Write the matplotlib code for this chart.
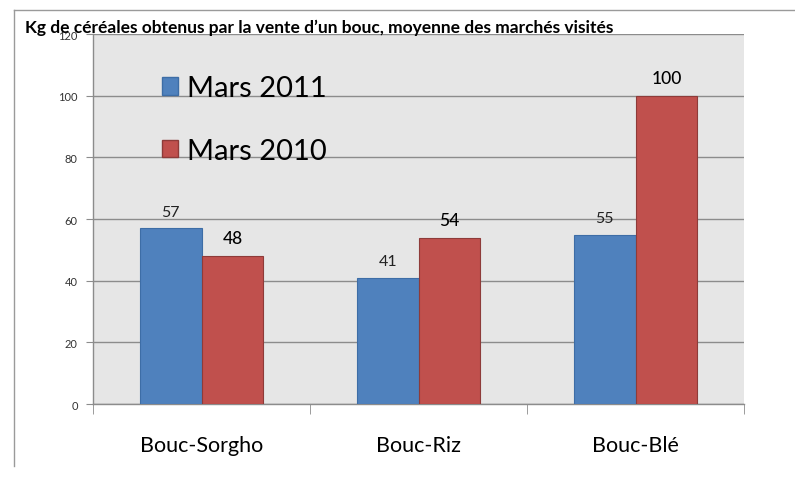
import matplotlib.pyplot as plt
from matplotlib.lines import Line2D
from matplotlib.patches import Patch
import numpy as np

categories = ["Bouc-Sorgho", "Bouc-Riz", "Bouc-Blé"]
mars_2011 = [57, 41, 55]
mars_2010 = [48, 54, 100]
series_labels = ["Mars 2011", "Mars 2010"]
y_ticks = [0, 20, 40, 60, 80, 100, 120]

BLUE = "#4f81bd"
RED = "#c0504d"
GRID = "#8c8c8c"

plt.rcParams["font.family"] = ["Lato", "DejaVu Sans"]

fig = plt.figure(figsize=(7.95, 5.02), dpi=100)
ax = fig.add_axes([0.117, 0.193, 0.819, 0.737])
ax.set_facecolor("#e6e6e6")

x = np.arange(len(categories))
w = 0.285
ax.bar(x - w / 2, mars_2011, w, color=BLUE, edgecolor="#3d6da6", linewidth=0.8, zorder=3)
ax.bar(x + w / 2, mars_2010, w, color=RED, edgecolor="#8e3b39", linewidth=0.8, zorder=3)

for xi, v in zip(x, mars_2011):
    ax.text(xi - w / 2, v + 3.2, str(v), ha="center", va="bottom", fontsize=11.5, color="#222222")
for xi, v in zip(x, mars_2010):
    ax.text(xi + w / 2, v + 3.2, str(v), ha="center", va="bottom", fontsize=12.5, color="black", weight="medium")

ax.set_xlim(-0.5, len(categories) - 0.5)
ax.set_ylim(0, 120)
ax.set_yticks(y_ticks)
ax.set_yticklabels([str(t) for t in y_ticks], fontsize=8, color="#333333")
ax.yaxis.grid(True, color=GRID, linewidth=1.0, zorder=1)
ax.set_axisbelow(True)
ax.tick_params(axis="y", length=5, color=GRID, pad=6)

ax.set_xticks(x)
ax.set_xticklabels(categories, fontsize=15.5)
ax.tick_params(axis="x", length=0, pad=22)
ax.set_xticks([-0.5, 0.5, 1.5, 2.5], minor=True)
ax.tick_params(axis="x", which="minor", length=7, color=GRID)

for side in ["top", "right"]:
    ax.spines[side].set_visible(False)
for side in ["left", "bottom"]:
    ax.spines[side].set_color(GRID)
    ax.spines[side].set_linewidth(1.0)

handles = [Patch(facecolor=BLUE, edgecolor="#3d6da6"), Patch(facecolor=RED, edgecolor="#8e3b39")]
ax.legend(handles, series_labels, loc="upper left", bbox_to_anchor=(0.088, 0.92), frameon=False,
          fontsize=21, handlelength=0.55, handleheight=0.55, handletextpad=0.3, labelspacing=1.25,
          borderaxespad=0)

# outer frame (top and left edges)
fig.add_artist(Line2D([0.0176, 1.0], [0.978, 0.978], color="#9a9a9a", linewidth=1.0))
fig.add_artist(Line2D([0.0176, 0.0176], [0.978, 0.07], color="#9a9a9a", linewidth=1.0))

fig.text(0.031, 0.934, "Kg de céréales obtenus par la vente d’un bouc, moyenne des marchés visités",
         fontsize=12.5, weight="bold", ha="left", va="baseline")

fig.savefig("out.png", dpi=100)
